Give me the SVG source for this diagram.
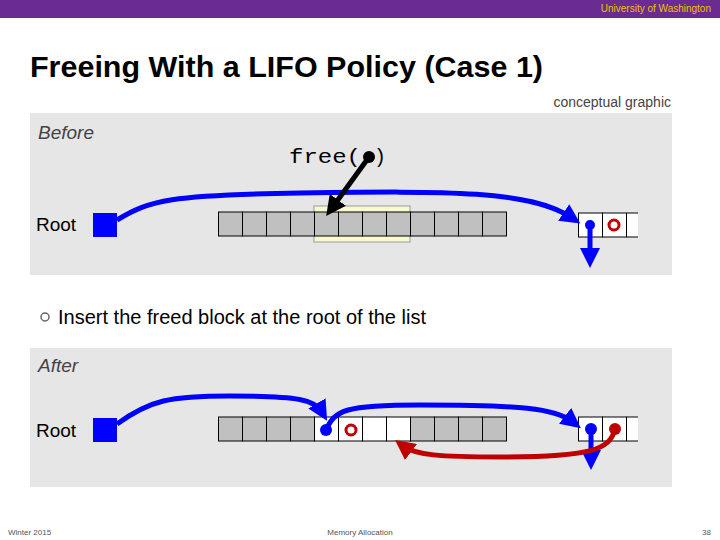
<svg xmlns="http://www.w3.org/2000/svg" width="720" height="540" viewBox="0 0 720 540">
<defs>
<style>
.c{fill:#c0c0c0;stroke:#000;stroke-width:1}
.w{fill:#fff;stroke:#000;stroke-width:1}
.b{fill:none;stroke:#0000ff;stroke-width:5}
.r{fill:none;stroke:#c00000;stroke-width:5}
.t{font-family:"Liberation Sans",Calibri,sans-serif}
</style>
<marker id="ab" markerWidth="4" markerHeight="4" refX="2" refY="2" orient="auto" markerUnits="strokeWidth"><path d="M0,0L4,2L0,4Z" fill="#0000ff"/></marker>
<marker id="ar" markerWidth="4" markerHeight="4" refX="2" refY="2" orient="auto" markerUnits="strokeWidth"><path d="M0,0L4,2L0,4Z" fill="#c00000"/></marker>
<marker id="ak" markerWidth="4" markerHeight="4" refX="2" refY="2" orient="auto" markerUnits="strokeWidth"><path d="M0,0L4,2L0,4Z" fill="#000"/></marker>
</defs>
<rect width="720" height="540" fill="#fff"/>
<rect width="720" height="18" fill="#6a2c91"/>
<text x="711" y="12" text-anchor="end" class="t" font-size="10" fill="#f0c000">University of Washington</text>
<text x="30" y="77" class="t" font-size="29" font-weight="bold" fill="#000" textLength="513" lengthAdjust="spacingAndGlyphs">Freeing With a LIFO Policy (Case 1)</text>
<text x="671" y="107" text-anchor="end" class="t" font-size="14" fill="#444">conceptual graphic</text>
<rect x="30" y="113" width="642" height="162" fill="#e6e6e6"/>
<rect x="30" y="348" width="642" height="139" fill="#e6e6e6"/>
<g id="before">
<text x="38" y="139" class="t" font-size="19" font-style="italic" fill="#444">Before</text>
<text x="36" y="231" class="t" font-size="19" fill="#000">Root</text>
<rect x="93" y="213" width="24" height="24" fill="#0000ff"/>
<rect x="314" y="206" width="96" height="36" fill="#fafad0" stroke="#999"/>
<g>
<rect class="c" x="218.5" y="212" width="24" height="24"/><rect class="c" x="242.5" y="212" width="24" height="24"/><rect class="c" x="266.5" y="212" width="24" height="24"/><rect class="c" x="290.5" y="212" width="24" height="24"/><rect class="c" x="314.5" y="212" width="24" height="24"/><rect class="c" x="338.5" y="212" width="24" height="24"/><rect class="c" x="362.5" y="212" width="24" height="24"/><rect class="c" x="386.5" y="212" width="24" height="24"/><rect class="c" x="410.5" y="212" width="24" height="24"/><rect class="c" x="434.5" y="212" width="24" height="24"/><rect class="c" x="458.5" y="212" width="24" height="24"/><rect class="c" x="482.5" y="212" width="24" height="24"/>
</g>
<rect class="w" x="578.5" y="213" width="24" height="24"/><rect class="w" x="602.5" y="213" width="24" height="24"/><path d="M638,213H626.5V237H638" fill="#fff" stroke="#000"/>
<circle cx="590" cy="225" r="5" fill="#0000ff"/>
<circle cx="614" cy="225" r="5" fill="none" stroke="#c00000" stroke-width="3"/>
<text x="289" y="163" font-family="Liberation Mono,monospace" font-size="20" fill="#000" textLength="72" lengthAdjust="spacingAndGlyphs">free(</text>
<text x="374" y="163" font-family="Liberation Mono,monospace" font-size="20" fill="#000">)</text>
</g>
<g id="after">
<text x="38" y="372" class="t" font-size="19" font-style="italic" fill="#444">After</text>
<text x="36" y="437" class="t" font-size="19" fill="#000">Root</text>
<rect x="93" y="418" width="24" height="24" fill="#0000ff"/>
<rect class="c" x="218.5" y="417" width="24" height="24"/><rect class="c" x="242.5" y="417" width="24" height="24"/><rect class="c" x="266.5" y="417" width="24" height="24"/><rect class="c" x="290.5" y="417" width="24" height="24"/><rect class="w" x="314.5" y="417" width="24" height="24"/><rect class="w" x="338.5" y="417" width="24" height="24"/><rect class="w" x="362.5" y="417" width="24" height="24"/><rect class="w" x="386.5" y="417" width="24" height="24"/><rect class="c" x="410.5" y="417" width="24" height="24"/><rect class="c" x="434.5" y="417" width="24" height="24"/><rect class="c" x="458.5" y="417" width="24" height="24"/><rect class="c" x="482.5" y="417" width="24" height="24"/>
<rect class="w" x="578.5" y="417" width="24" height="24"/><rect class="w" x="602.5" y="417" width="24" height="24"/><path d="M638,417H626.5V441H638" fill="#fff" stroke="#000"/>
<circle cx="326" cy="430" r="6" fill="#0000ff"/>
<circle cx="351" cy="430" r="5" fill="none" stroke="#c00000" stroke-width="3"/>
<circle cx="591" cy="429" r="6" fill="#0000ff"/>
<circle cx="615" cy="429" r="6" fill="#c00000"/>
</g>
<g id="connectors">
<path class="b" d="M117,220C150,200 170,195 300,193C450,191 530,190 572,218" marker-end="url(#ab)"/>
<path class="b" d="M590,225V258" marker-end="url(#ab)"/>
<line x1="369" y1="157" x2="332" y2="208" stroke="#000" stroke-width="5" marker-end="url(#ak)"/>
<circle cx="369" cy="157" r="6" fill="#000"/>
<path class="b" d="M117,424C150,400 170,396 230,396C300,396 315,400 322,412" marker-end="url(#ab)"/>
<path class="b" d="M326,430C335,410 345,405 420,405C520,405 555,408 573,422" marker-end="url(#ab)"/>
<path class="b" d="M591,429V460" marker-end="url(#ab)"/>
<path class="r" d="M615,429C610,450 590,457 500,457C440,457 415,455 403,446" marker-end="url(#ar)"/>
</g>
<g id="bullet">
<circle cx="45" cy="317" r="4" fill="none" stroke="#666" stroke-width="1.5"/>
<text x="58" y="324" class="t" font-size="20" fill="#000">Insert the freed block at the root of the list</text>
</g>
<text x="8" y="535" class="t" font-size="8" fill="#555">Winter 2015</text>
<text x="360" y="535" text-anchor="middle" class="t" font-size="8" fill="#555">Memory Allocation</text>
<text x="711" y="535" text-anchor="end" class="t" font-size="8" fill="#555">38</text>
</svg>
